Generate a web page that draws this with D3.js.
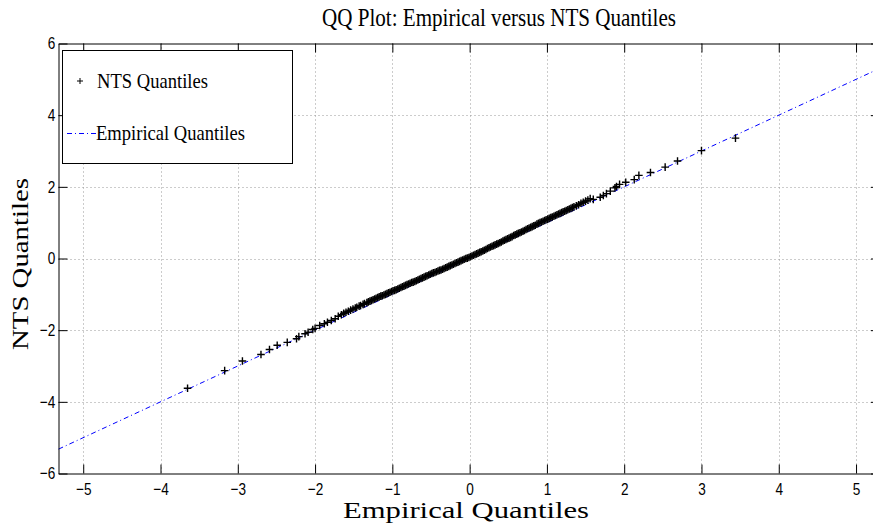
<!DOCTYPE html>
<html>
<head>
<meta charset="utf-8">
<script src="https://cdn.jsdelivr.net/npm/d3@7"></script>
<style>
  body { margin: 0; background: #fff; }
  svg { display: block; }
  .serif { font-family: "Liberation Serif", "Times New Roman", serif; fill: #000; }
</style>
</head>
<body>
<svg id="chart" width="873" height="527"></svg>
<script>
// empirical quantiles (x) and NTS quantiles (y)
const lowerTail = [
  [-3.65, -3.62], [-3.17, -3.13], [-2.94, -2.86], [-2.70, -2.68], [-2.59, -2.54],
  [-2.49, -2.42], [-2.36, -2.34], [-2.24, -2.24], [-2.21, -2.18], [-2.13, -2.10],
  [-2.09, -2.06], [-2.03, -1.98], [-2.00, -1.95], [-1.94, -1.87], [-1.88, -1.82],
  [-1.84, -1.78], [-1.79, -1.73], [-1.74, -1.68]
]
const middle = [
  [-1.70, -1.61], [-1.66, -1.57], [-1.63, -1.53], [-1.60, -1.50], [-1.57, -1.47],
  [-1.54, -1.44], [-1.51, -1.41], [-1.48, -1.38], [-1.46, -1.36], [-1.43, -1.33],
  [-1.41, -1.31], [-1.38, -1.28], [-1.36, -1.26], [-1.33, -1.23], [-1.31, -1.21],
  [-1.29, -1.19], [-1.27, -1.17], [-1.25, -1.15], [-1.23, -1.13], [-1.21, -1.11],
  [-1.19, -1.09], [-1.17, -1.07], [-1.15, -1.05], [-1.13, -1.04], [-1.11, -1.02],
  [-1.09, -1.00], [-1.07, -0.98], [-1.05, -0.96], [-1.03, -0.94], [-1.01, -0.92],
  [-0.99, -0.90], [-0.97, -0.89], [-0.95, -0.87], [-0.93, -0.85], [-0.91, -0.83],
  [-0.89, -0.81], [-0.87, -0.79], [-0.85, -0.77], [-0.83, -0.75], [-0.81, -0.73],
  [-0.79, -0.71], [-0.77, -0.69], [-0.75, -0.67], [-0.73, -0.66], [-0.71, -0.64],
  [-0.69, -0.62], [-0.67, -0.60], [-0.65, -0.58], [-0.63, -0.56], [-0.61, -0.54],
  [-0.59, -0.52], [-0.57, -0.50], [-0.55, -0.48], [-0.53, -0.46], [-0.51, -0.44],
  [-0.49, -0.42], [-0.47, -0.40], [-0.45, -0.39], [-0.43, -0.37], [-0.41, -0.35],
  [-0.39, -0.33], [-0.37, -0.32], [-0.35, -0.30], [-0.33, -0.28], [-0.31, -0.26],
  [-0.29, -0.24], [-0.27, -0.22], [-0.25, -0.20], [-0.23, -0.18], [-0.21, -0.16],
  [-0.19, -0.14], [-0.17, -0.12], [-0.15, -0.10], [-0.13, -0.08], [-0.11, -0.06],
  [-0.09, -0.04], [-0.07, -0.02], [-0.05, 0.00], [-0.03, 0.01], [-0.01, 0.03],
  [0.01, 0.05], [0.03, 0.07], [0.05, 0.09], [0.07, 0.11], [0.09, 0.13],
  [0.11, 0.15], [0.13, 0.17], [0.15, 0.19], [0.17, 0.21], [0.19, 0.23],
  [0.21, 0.25], [0.23, 0.28], [0.25, 0.30], [0.27, 0.32], [0.29, 0.34],
  [0.31, 0.36], [0.33, 0.38], [0.35, 0.40], [0.37, 0.42], [0.39, 0.44],
  [0.41, 0.46], [0.43, 0.49], [0.45, 0.51], [0.47, 0.53], [0.49, 0.55],
  [0.51, 0.57], [0.53, 0.59], [0.55, 0.61], [0.57, 0.64], [0.59, 0.66],
  [0.61, 0.68], [0.63, 0.70], [0.65, 0.72], [0.67, 0.74], [0.69, 0.76],
  [0.71, 0.78], [0.73, 0.81], [0.75, 0.83], [0.77, 0.85], [0.79, 0.87],
  [0.81, 0.89], [0.83, 0.91], [0.85, 0.93], [0.87, 0.96], [0.89, 0.98],
  [0.91, 1.00], [0.93, 1.02], [0.95, 1.04], [0.97, 1.06], [0.99, 1.08],
  [1.01, 1.10], [1.03, 1.12], [1.05, 1.14], [1.07, 1.16], [1.09, 1.18],
  [1.11, 1.20], [1.13, 1.22], [1.15, 1.24], [1.17, 1.26], [1.19, 1.28],
  [1.21, 1.30], [1.23, 1.32], [1.25, 1.34], [1.27, 1.36], [1.29, 1.38],
  [1.31, 1.40], [1.33, 1.42], [1.35, 1.44], [1.38, 1.47], [1.41, 1.50],
  [1.44, 1.54], [1.47, 1.57], [1.50, 1.60], [1.53, 1.63]
]
const upperTail = [
  [1.56, 1.67], [1.60, 1.65], [1.69, 1.71], [1.73, 1.76], [1.77, 1.81],
  [1.82, 1.88], [1.88, 1.97], [1.90, 2.01], [1.94, 2.07], [2.02, 2.13],
  [2.13, 2.20], [2.19, 2.32], [2.34, 2.40], [2.53, 2.55], [2.69, 2.72],
  [3.00, 3.01], [3.44, 3.36]
]
const refLine = [[-5.32, -5.32], [5.31, 5.31]]
const xTicks = [-5, -4, -3, -2, -1, 0, 1, 2, 3, 4, 5]
const yTicks = [-6, -4, -2, 0, 2, 4, 6]

const points = [...lowerTail, ...middle, ...upperTail]

const svg = d3.select("#chart")
const plotLeft = 58.5, plotRight = 880, plotTop = 43.5, plotBottom = 473.5

const x = d3.scaleLinear().domain([-5.32, 5.31]).range([plotLeft, plotRight])
const y = d3.scaleLinear().domain([-6, 6]).range([plotBottom, plotTop])

svg.append("rect").attr("width", 873).attr("height", 527).attr("fill", "#fff")

// grid
const grid = svg.append("g").attr("stroke", "#999").attr("stroke-width", 1).attr("stroke-dasharray", "1,3")
grid.selectAll("line.gx").data(xTicks).enter().append("line")
  .attr("x1", d => Math.round(x(d)) + 0.5).attr("x2", d => Math.round(x(d)) + 0.5)
  .attr("y1", plotTop).attr("y2", plotBottom)
grid.selectAll("line.gy").data(yTicks.slice(1, -1)).enter().append("line")
  .attr("x1", plotLeft).attr("x2", plotRight)
  .attr("y1", d => Math.round(y(d)) + 0.5).attr("y2", d => Math.round(y(d)) + 0.5)

// reference line
svg.append("path")
  .datum(refLine)
  .attr("fill", "none")
  .attr("stroke", "#0000ff")
  .attr("stroke-width", 1)
  .attr("stroke-dasharray", "5,3,1,3")
  .attr("d", d3.line().x(d => x(d[0])).y(d => y(d[1])))

// markers
const cross = (cx, cy, r) => `M${cx - r},${cy}H${cx + r}M${cx},${cy - r}V${cy + r}`
svg.append("path")
  .attr("fill", "none")
  .attr("stroke", "#000")
  .attr("stroke-width", 1.4)
  .attr("d", points.map(p => cross(x(p[0]), y(p[1]), 3.8)).join(""))

// axes
const axisStyle = g => {
  g.select(".domain").attr("stroke", "#000")
  g.selectAll(".tick line").attr("stroke", "#000")
  g.selectAll(".tick text")
    .attr("fill", "#000")
    .style("font-family", '"Liberation Sans", Arial, sans-serif')
    .style("font-size", "17px")
}
svg.append("g").attr("transform", `translate(0,${plotBottom})`)
  .call(d3.axisBottom(x).tickValues(xTicks).tickSize(-9).tickSizeOuter(0).tickPadding(9))
  .call(axisStyle)
  .call(g => g.selectAll(".tick text").attr("transform", "scale(0.8,1)"))
svg.append("g").attr("transform", `translate(0,${plotTop})`)
  .call(d3.axisTop(x).tickValues(xTicks).tickSize(-9).tickSizeOuter(0).tickFormat(""))
  .call(axisStyle)
svg.append("g").attr("transform", `translate(${plotLeft},0)`)
  .call(d3.axisLeft(y).tickValues(yTicks).tickSize(-9).tickSizeOuter(0).tickPadding(4))
  .call(axisStyle)
  .call(g => g.selectAll(".tick text").attr("transform", "scale(0.8,1)"))
svg.append("g").attr("transform", `translate(${plotRight},0)`)
  .call(d3.axisRight(y).tickValues(yTicks).tickSize(-9).tickSizeOuter(0).tickFormat(""))
  .call(axisStyle)

// title and labels
svg.append("text").attr("class", "serif")
  .attr("x", 499).attr("y", 26).attr("text-anchor", "middle")
  .attr("font-size", 25).attr("textLength", 354).attr("lengthAdjust", "spacingAndGlyphs")
  .text("QQ Plot: Empirical versus NTS Quantiles")
svg.append("text").attr("class", "serif")
  .attr("x", 466).attr("y", 518).attr("text-anchor", "middle")
  .attr("font-size", 24).attr("textLength", 246).attr("lengthAdjust", "spacingAndGlyphs")
  .text("Empirical Quantiles")
svg.append("text").attr("class", "serif")
  .attr("transform", "translate(28,264) rotate(-90)").attr("text-anchor", "middle")
  .attr("font-size", 24).attr("textLength", 172).attr("lengthAdjust", "spacingAndGlyphs")
  .text("NTS Quantiles")

// legend
const legend = svg.append("g")
legend.append("rect")
  .attr("x", 62.5).attr("y", 50.5).attr("width", 230).attr("height", 113)
  .attr("fill", "#fff").attr("stroke", "#000")
legend.append("path").attr("stroke", "#000").attr("fill", "none").attr("d", cross(80, 81, 3))
legend.append("text").attr("class", "serif")
  .attr("x", 97).attr("y", 87.5).attr("font-size", 21)
  .attr("textLength", 111).attr("lengthAdjust", "spacingAndGlyphs")
  .text("NTS Quantiles")
legend.append("line")
  .attr("x1", 67).attr("x2", 96).attr("y1", 133.5).attr("y2", 133.5)
  .attr("stroke", "#0000ff").attr("stroke-dasharray", "5,3,1,3")
legend.append("text").attr("class", "serif")
  .attr("x", 96).attr("y", 139.5).attr("font-size", 21)
  .attr("textLength", 149).attr("lengthAdjust", "spacingAndGlyphs")
  .text("Empirical Quantiles")
</script>
</body>
</html>
